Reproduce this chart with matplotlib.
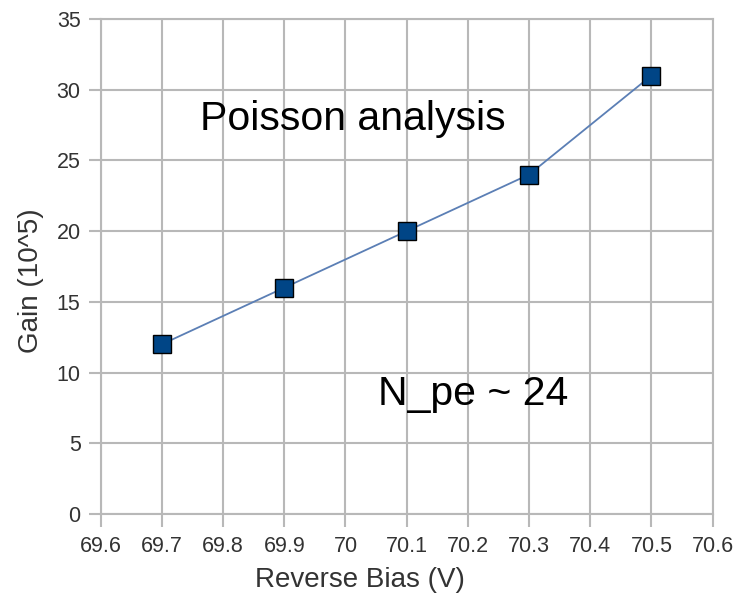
import numpy as np
import matplotlib.pyplot as plt

plt.rcParams['font.family'] = ['Liberation Sans', 'DejaVu Sans']

bias = [69.7, 69.9, 70.1, 70.3, 70.5]
gain = [12, 16, 20, 24, 31]
xticks = [69.6, 69.7, 69.8, 69.9, 70.0, 70.1, 70.2, 70.3, 70.4, 70.5, 70.6]
xlabels = ['69.6', '69.7', '69.8', '69.9', '70', '70.1', '70.2', '70.3', '70.4', '70.5', '70.6']
yticks = [0, 5, 10, 15, 20, 25, 30, 35]

grid_col = '#b8b8b8'
txt_col = '#333333'

fig = plt.figure(figsize=(7.52, 6.02), dpi=100)
ax = fig.add_axes([0.1339, 0.1462, 0.8138, 0.8223])

ax.plot(bias, gain, color='#5b7fb5', lw=1.3, marker='s', ms=13,
        markerfacecolor='#004586', markeredgecolor='black', markeredgewidth=1.0, zorder=3)

ax.set_xlim(69.6, 70.6)
ax.set_ylim(0, 35)
ax.set_xticks(xticks)
ax.set_xticklabels(xlabels)
ax.set_yticks(yticks)
ax.grid(True, color=grid_col, lw=1.5)
ax.set_axisbelow(True)
for s in ax.spines.values():
    s.set_color(grid_col)
    s.set_linewidth(1.5)
ax.tick_params(axis='both', color=grid_col, width=1.5, length=9, labelsize=15.5,
               labelcolor=txt_col)
ax.tick_params(axis='x', pad=7)
ax.tick_params(axis='y', pad=5.5)

ax.set_xlabel('Reverse Bias (V)', fontsize=20, color=txt_col, va='center')
ax.set_ylabel('Gain (10^5)', fontsize=20, color=txt_col, va='center')
ax.xaxis.set_label_coords(0.424, -0.133)
ax.yaxis.set_label_coords(-0.114, 0.4717)

ax.text(69.762, 27.15, 'Poisson analysis', fontsize=29.5, color='black', va='baseline')
ax.text(70.053, 7.71, 'N_pe ~ 24', fontsize=29.5, color='black', va='baseline')

fig.savefig('out.png', dpi=100)
